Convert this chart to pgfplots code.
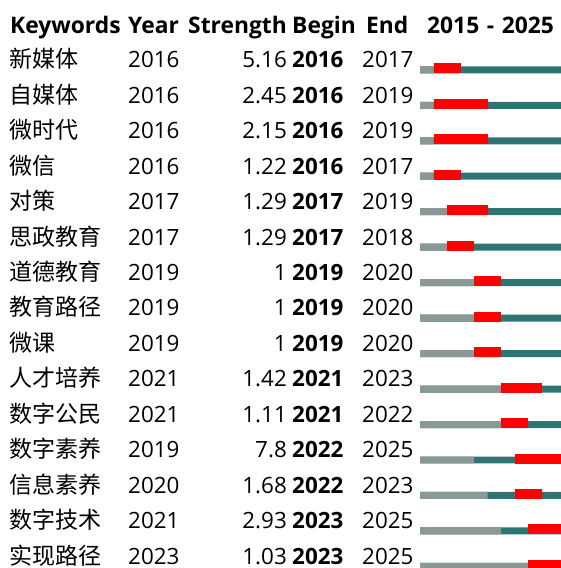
\documentclass[border=0pt]{standalone}
\usepackage{pgfplots}
\usepackage{pgfplotstable}
\pgfplotsset{compat=1.18}
\usepackage{fontspec}
\setmainfont{Open Sans}
\newfontfamily\cjk{Noto Sans CJK SC}
\definecolor{bgray}{HTML}{8A9996}
\definecolor{bteal}{HTML}{2D7472}
\definecolor{bred}{HTML}{FF0000}

\pgfplotstableread{
row kw year strength begin end
1 新媒体 2016 5.16 2016 2017
2 自媒体 2016 2.45 2016 2019
3 微时代 2016 2.15 2016 2019
4 微信 2016 1.22 2016 2017
5 对策 2017 1.29 2017 2019
6 思政教育 2017 1.29 2017 2018
7 道德教育 2019 1 2019 2020
8 教育路径 2019 1 2019 2020
9 微课 2019 1 2019 2020
10 人才培养 2021 1.42 2021 2023
11 数字公民 2021 1.11 2021 2022
12 数字素养 2019 7.8 2022 2025
13 信息素养 2020 1.68 2022 2023
14 数字技术 2021 2.93 2023 2025
15 实现路径 2023 1.03 2023 2025
}\data

\newcommand{\bodyfont}{\fontsize{22.4bp}{26bp}\selectfont}
\newcommand{\headfont}{\fontsize{22.8bp}{28bp}\selectfont\bfseries}

\begin{document}
\bodyfont
\begin{tikzpicture}
\begin{axis}[
  scale only axis,
  width=561bp, height=568bp,
  xmin=-31.111, xmax=10.444,
  ymin=-0.9087, ymax=15.105,
  y dir=reverse,
  axis line style={draw=none},
  ticks=none,
  clip mode=individual,
  every node near coord/.append style={font=\bodyfont, text=black, inner sep=0pt},
]
% thin background bars
\addplot[xbar, bar width=0.197, fill=bteal, draw=none]
  table[x expr=11, y expr=\thisrow{row}+0.06] {\data};
\addplot[xbar, bar width=0.197, fill=bgray, draw=none]
  table[x expr=\thisrow{year}-2015, y expr=\thisrow{row}+0.06] {\data};
% burst (red) segments
\addplot[draw=none, mark=none,
  error bars/.cd, x dir=plus, x explicit, error mark=none,
  error bar style={draw=bred, line width=10bp}]
  table[x expr=\thisrow{begin}-2015, y expr=\thisrow{row}+0.018,
        x error expr=\thisrow{end}+1-\thisrow{begin}] {\data};
% text columns
\addplot[draw=none, mark=none, nodes near coords, point meta=explicit symbolic,
  every node near coord/.append style={anchor=base west, font=\fontsize{23bp}{26bp}\cjk}]
  table[x expr=-30.45, y=row, meta=kw] {\data};
\addplot[draw=none, mark=none, nodes near coords, point meta=explicit symbolic,
  every node near coord/.append style={anchor=base west}]
  table[x expr=-21.63, y=row, meta=year] {\data};
\addplot[draw=none, mark=none, nodes near coords, point meta=explicit symbolic,
  every node near coord/.append style={anchor=base east}]
  table[x expr=-9.852, y=row, meta=strength] {\data};
\addplot[draw=none, mark=none, nodes near coords, point meta=explicit symbolic,
  every node near coord/.append style={anchor=base west, font=\bodyfont\bfseries}]
  table[x expr=-9.481, y=row, meta=begin] {\data};
\addplot[draw=none, mark=none, nodes near coords, point meta=explicit symbolic,
  every node near coord/.append style={anchor=base west}]
  table[x expr=-4.296, y=row, meta=end] {\data};
% header
\begin{scope}[every node/.style={anchor=base west, inner sep=0pt, font=\headfont}]
\node at (axis cs:-30.370,0.022) {Keywords};
\node at (axis cs:-21.630,0.022) {Year};
\node at (axis cs:-17.185,0.022) {Strength};
\node at (axis cs:-9.481,0.022) {Begin};
\node at (axis cs:-4.0,0.022) {End};
\node at (axis cs:0.5185,0.022) {2015\,\,-\,\,2025};
\end{scope}
\end{axis}
\end{tikzpicture}
\end{document}
